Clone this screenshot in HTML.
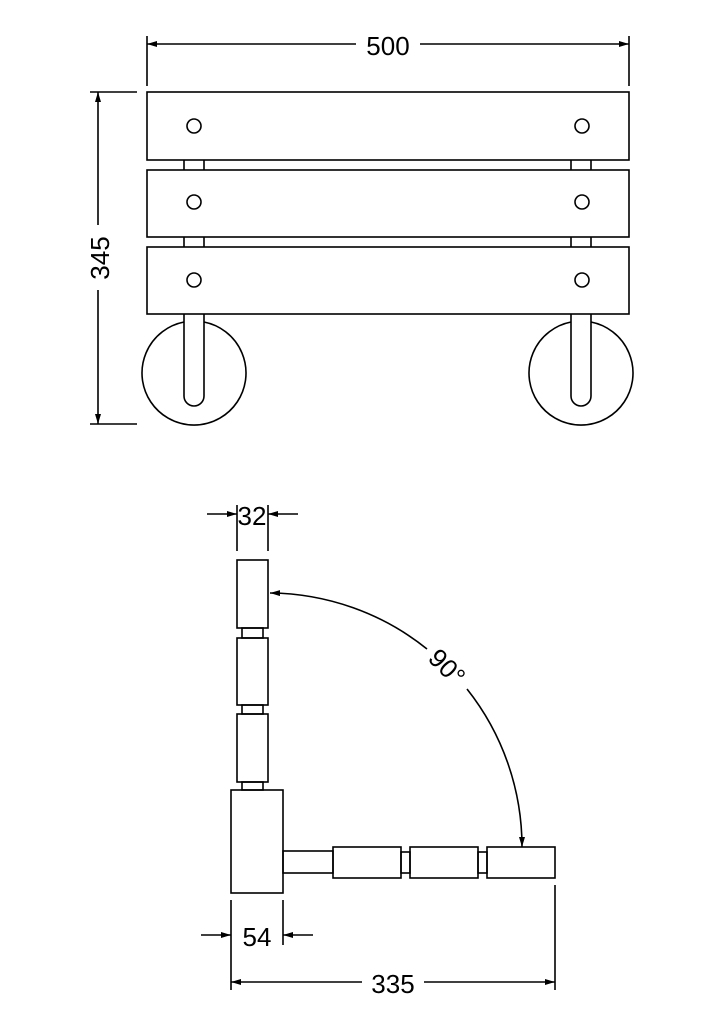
<!DOCTYPE html>
<html><head><style>body{margin:0;background:#fff}svg{display:block}</style></head><body>
<svg width="724" height="1024" viewBox="0 0 724 1024" xmlns="http://www.w3.org/2000/svg">
<defs>
<marker id="a" viewBox="0 0 10 6" refX="10" refY="3" markerWidth="10" markerHeight="6" orient="auto-start-reverse" markerUnits="userSpaceOnUse"><path d="M0,0 L10,3 L0,6 z" fill="#000"/></marker>
</defs>
<g fill="none" stroke="#000" stroke-width="1.6">
<line x1="147" y1="36" x2="147" y2="86"/><line x1="629" y1="36" x2="629" y2="86"/>
<line x1="147" y1="44" x2="356" y2="44" marker-start="url(#a)"/><line x1="420" y1="44" x2="629" y2="44" marker-end="url(#a)"/>
<line x1="90" y1="92" x2="137" y2="92"/><line x1="90" y1="424" x2="137" y2="424"/>
<line x1="98" y1="92" x2="98" y2="225" marker-start="url(#a)"/><line x1="98" y1="290" x2="98" y2="424" marker-end="url(#a)"/>
<rect x="147" y="92" width="482" height="68"/>
<rect x="147" y="170" width="482" height="67"/>
<rect x="147" y="247" width="482" height="67"/>
<path d="M184,160V170M204,160V170M184,237V247M204,237V247M571,160V170M591,160V170M571,237V247M591,237V247"/>
<circle cx="194" cy="126" r="7"/><circle cx="194" cy="202" r="7"/><circle cx="194" cy="280" r="7"/>
<circle cx="582" cy="126" r="7"/><circle cx="582" cy="202" r="7"/><circle cx="582" cy="280" r="7"/>
<path d="M184,322 A52,52 0 1 0 204,322"/>
<path d="M184,314 V396 A10,10 0 0 0 204,396 V314"/>
<path d="M571,322 A52,52 0 1 0 591,322"/>
<path d="M571,314 V396 A10,10 0 0 0 591,396 V314"/>
<line x1="237" y1="505" x2="237" y2="551"/><line x1="268" y1="505" x2="268" y2="551"/>
<line x1="207" y1="514" x2="237" y2="514" marker-end="url(#a)"/><line x1="298" y1="514" x2="268" y2="514" marker-end="url(#a)"/>
<rect x="237" y="560" width="31" height="68"/>
<rect x="242" y="628" width="21" height="10"/>
<rect x="237" y="638" width="31" height="67"/>
<rect x="242" y="705" width="21" height="9"/>
<rect x="237" y="714" width="31" height="68"/>
<rect x="242" y="782" width="21" height="8"/>
<rect x="231" y="790" width="52" height="103"/>
<rect x="283" y="851" width="50" height="22"/>
<rect x="333" y="847" width="68" height="31"/>
<rect x="401" y="852" width="9" height="21"/>
<rect x="410" y="847" width="68" height="31"/>
<rect x="478" y="852" width="9" height="21"/>
<rect x="487" y="847" width="68" height="31"/>
<path d="M427,649 A254,254 0 0 0 270,593" marker-end="url(#a)"/>
<path d="M467,689 A254,254 0 0 1 522,847" marker-end="url(#a)"/>
<line x1="231" y1="900" x2="231" y2="990"/><line x1="283" y1="900" x2="283" y2="945"/>
<line x1="201" y1="935" x2="231" y2="935" marker-end="url(#a)"/><line x1="313" y1="935" x2="283" y2="935" marker-end="url(#a)"/>
<line x1="555" y1="885" x2="555" y2="990"/>
<line x1="231" y1="982" x2="362" y2="982" marker-start="url(#a)"/><line x1="424" y1="982" x2="555" y2="982" marker-end="url(#a)"/>
</g>
<g font-family="Liberation Sans, sans-serif" font-size="26" text-anchor="middle" fill="#000">
<text x="388" y="55">500</text>
<text transform="translate(109,258) rotate(-90)">345</text>
<text x="252" y="525">32</text>
<text transform="translate(447,667) rotate(45)" dy="9">90°</text>
<text x="257" y="946">54</text>
<text x="393" y="993">335</text>
</g>
</svg>
</body></html>
